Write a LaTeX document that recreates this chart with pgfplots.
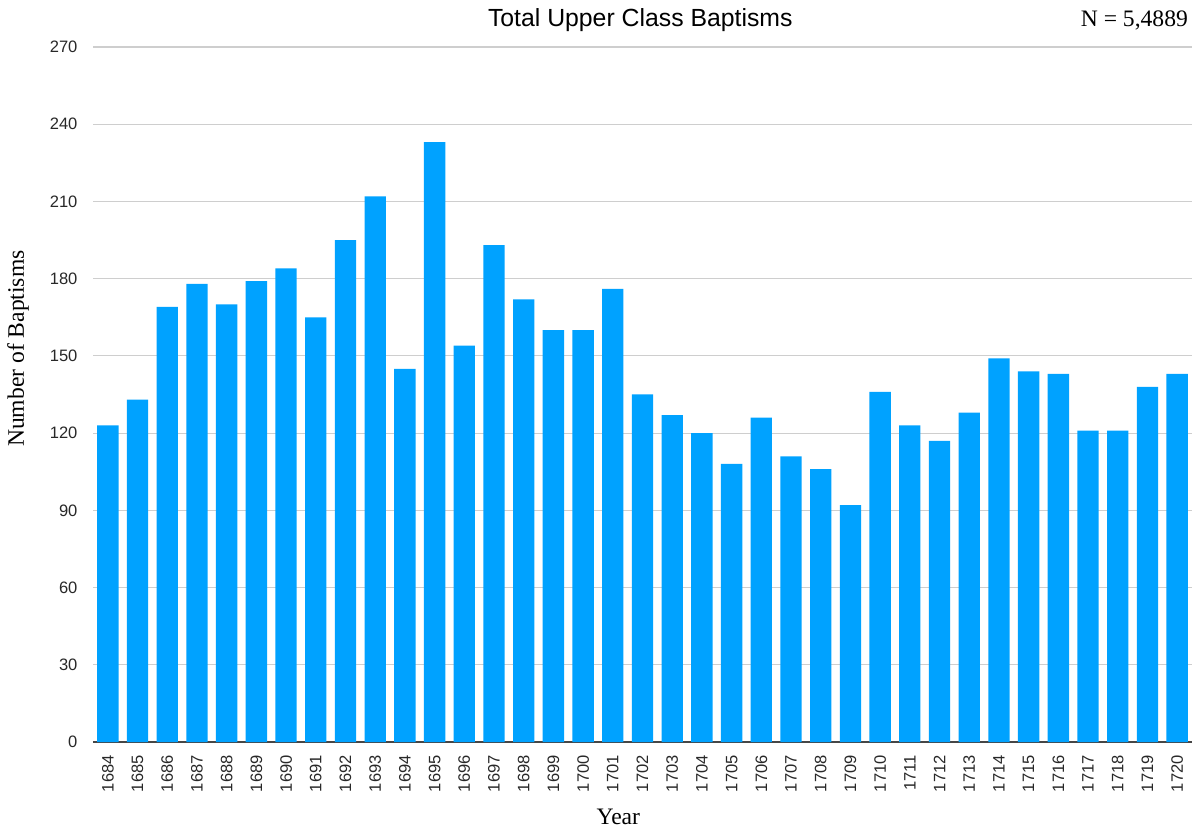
\documentclass[border=0pt]{standalone}
\usepackage{fontspec}
\setmainfont{Liberation Serif}
\setsansfont{Liberation Sans}
\usepackage{pgfplots}
\pgfplotsset{compat=1.18}
\definecolor{barblue}{RGB}{0,162,255}
\definecolor{gridgray}{RGB}{206,206,206}
\definecolor{tickgray}{RGB}{40,40,40}
\definecolor{basegray}{RGB}{70,70,70}
\begin{document}
\begin{tikzpicture}
\useasboundingbox (0,0) rectangle (894pt,621pt);
\begin{axis}[
  at={(69.75pt,64.5pt)}, anchor=south west,
  scale only axis, width=824.25pt, height=521.25pt,
  ybar, bar width=16pt,
  xmin=1683.5, xmax=1720.5, ymin=0, ymax=270,
  xtick=data, ytick={0,30,...,270},
  major tick length=0pt,
  axis x line*=bottom, axis y line*=left,
  x axis line style={-, draw=basegray, line width=1.3pt},
  y axis line style={draw=none},
  ymajorgrids, grid style={draw=gridgray, line width=0.8pt},
  clip=false,
  /pgf/number format/1000 sep={},
  /pgf/number format/assume math mode=true,
  ticklabel style={font=\sffamily\fontsize{12.4}{12.4}\selectfont, text=tickgray},
  xticklabel style={rotate=90, anchor=east, inner sep=0pt},
  xticklabel shift=9.75pt,
  yticklabel style={anchor=east, inner sep=0pt},
  yticklabel shift=11.5pt,
  title={Total Upper Class Baptisms},
  every axis title/.style={font=\sffamily\fontsize{18.6}{18.6}\selectfont, at={(axis description cs:0.498,1)}, anchor=base, yshift=15pt},
  xlabel={Year},
  xlabel style={font=\fontsize{17.7}{17.7}\selectfont, at={(axis description cs:0.478,-0.1194)}, anchor=base},
  ylabel={Number of Baptisms},
  ylabel style={font=\fontsize{17.7}{17.7}\selectfont, at={(axis description cs:-0.0682,0.566)}, anchor=center, rotate=0},
]
\addplot[fill=barblue, draw=none] coordinates {
  (1684,123) (1685,133) (1686,169) (1687,178) (1688,170) (1689,179)
  (1690,184) (1691,165) (1692,195) (1693,212) (1694,145) (1695,233)
  (1696,154) (1697,193) (1698,172) (1699,160) (1700,160) (1701,176)
  (1702,135) (1703,127) (1704,120) (1705,108) (1706,126) (1707,111)
  (1708,106) (1709,92)  (1710,136) (1711,123) (1712,117) (1713,128)
  (1714,149) (1715,144) (1716,143) (1717,121) (1718,121) (1719,138)
  (1720,143)
};
\node[font=\fontsize{17.7}{17.7}\selectfont, anchor=base east, inner sep=0pt] at (axis description cs:0.9965,1) [yshift=15pt] {N = 5,4889};
\end{axis}
\end{tikzpicture}
\end{document}
